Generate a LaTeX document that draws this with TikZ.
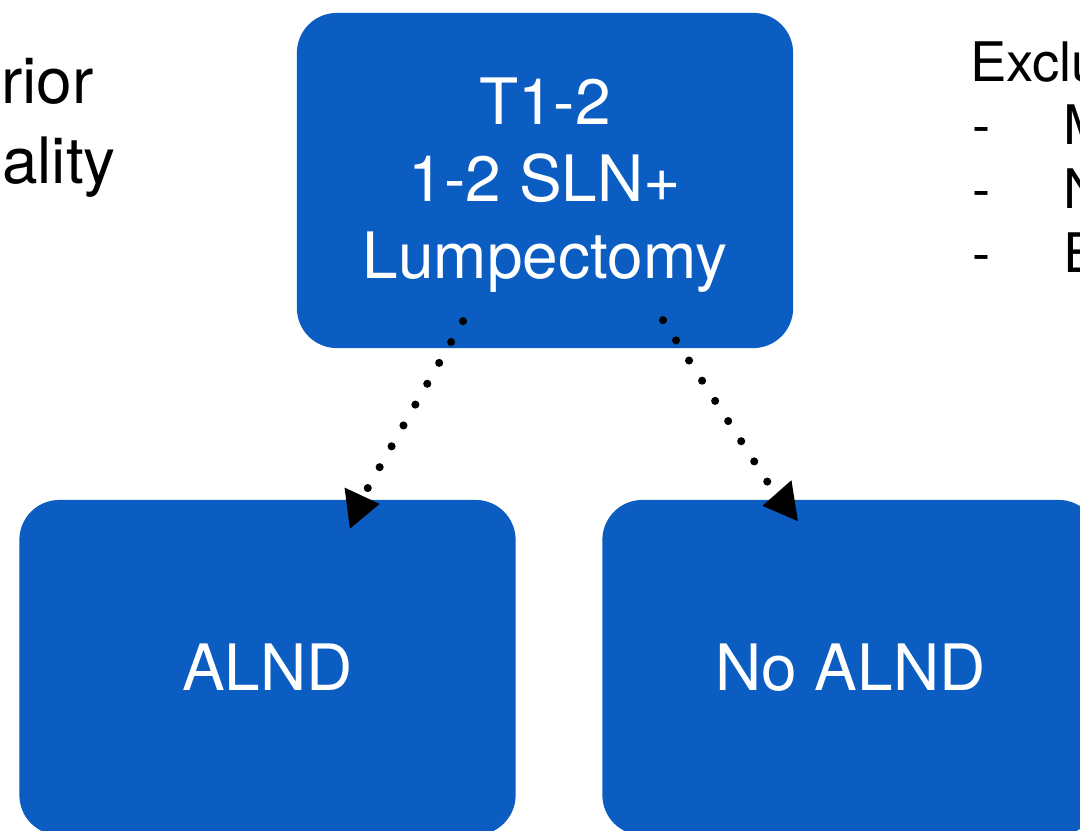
\documentclass[tikz,border=0pt]{standalone}
\usepackage{fontspec}
\setmainfont{TeX Gyre Heros}
\usetikzlibrary{arrows.meta}
\definecolor{boxblue}{RGB}{11,93,194}

\begin{document}
\begin{tikzpicture}[x=0.01cm,y=-0.01cm,
                    semithick]
  \tikzstyle{every node}=[font=\fontsize{18.2}{21.9}\selectfont]
  \tikzstyle{branch}=[fill=boxblue,draw=none,rounded corners=0.4cm,text=white,align=center,
                      minimum width=4.96cm,minimum height=3.35cm,inner sep=0pt]
  \tikzstyle{side}=[anchor=base west,inner sep=0pt]
  \tikzstyle{small}=[font=\fontsize{15.5}{18.2}\selectfont]
  \tikzstyle{flow}=[black,line width=2.3pt,line cap=round,dash pattern=on 0pt off 6.83pt,
                    -{Triangle[length=9.4pt,width=11.1pt]}]

  \useasboundingbox (0,0) rectangle (1080,830);

  \node[branch] (lump)   at (545,180.5) {\rule{0pt}{16pt}T1-2\\1-2 SLN+\\Lumpectomy};
  \node[branch] (alnd)   at (267.5,667.5) {ALND};
  \node[branch] (noalnd) at (850.5,667.5) {No ALND};

  % cut-off text at the sides
  \node[side] (rior)  at (0,103) {rior};
  \node[side] (ality) at (1,183) {ality};
  \node[side,small] (excl)  at (969,81)   {Exclu};
  \node[side,small] (dashA) at (971,144)  {-};
  \node[side,small] (itemA) at (1062,144) {M};
  \node[side,small] (dashB) at (971,208)  {-};
  \node[side,small] (itemB) at (1062,208) {N};
  \node[side,small] (dashC) at (971,272)  {-};
  \node[side,small] (itemC) at (1062,272) {E};

  \draw[flow] ([shift={(-82,-28)}]lump.south) -- ([shift={(89.5,8)}]alnd.north)
                                              -- ([shift={(112.5,5)}]alnd.north);
  \draw[flow] ([shift={(118,-29)}]lump.south) -- ([shift={(-69.5,4)}]noalnd.north)
                                              -- ([shift={(-88.5,7)}]noalnd.north);
\end{tikzpicture}
\end{document}
